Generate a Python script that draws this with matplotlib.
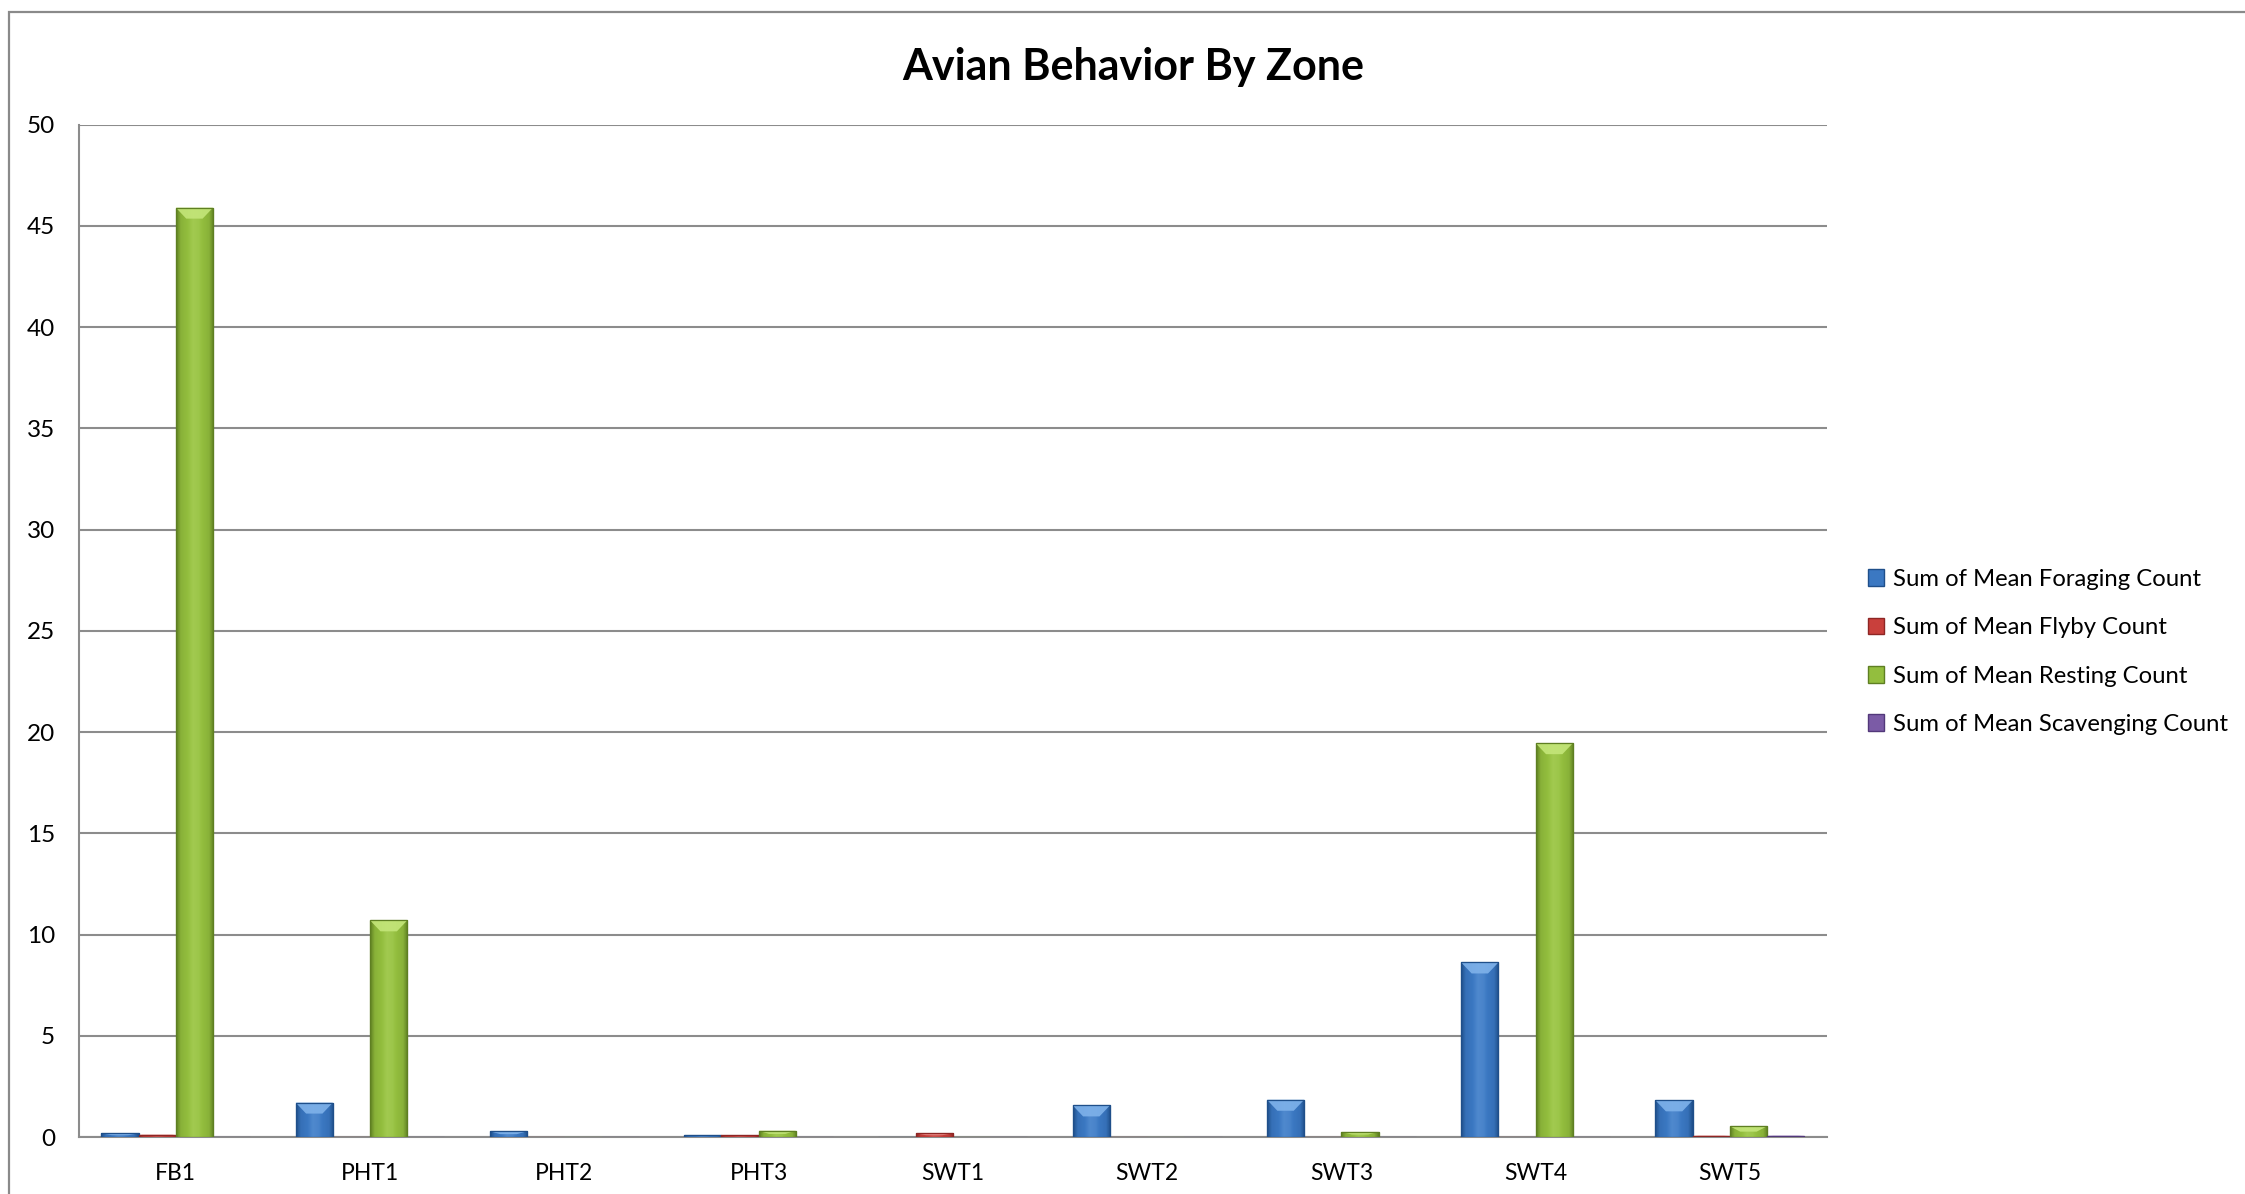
import matplotlib
matplotlib.use("Agg")
import matplotlib.pyplot as plt
import numpy as np
from matplotlib.patches import Patch, Polygon, Rectangle
from matplotlib.colors import to_rgb

plt.rcParams['font.family'] = ['Lato', 'DejaVu Sans']

zones = ["FB1", "PHT1", "PHT2", "PHT3", "SWT1", "SWT2", "SWT3", "SWT4", "SWT5"]
series_names = ["Sum of Mean Foraging Count", "Sum of Mean Flyby Count",
                "Sum of Mean Resting Count", "Sum of Mean Scavenging Count"]
foraging = [0.18, 1.70, 0.28, 0.10, 0.0, 1.56, 1.84, 8.62, 1.81]
flyby = [0.12, 0.0, 0.0, 0.10, 0.18, 0.0, 0.0, 0.0, 0.07]
resting = [45.9, 10.7, 0.0, 0.31, 0.0, 0.0, 0.25, 19.45, 0.53]
scavenging = [0.0, 0.0, 0.0, 0.0, 0.0, 0.0, 0.0, 0.0, 0.07]
yticks = [0, 5, 10, 15, 20, 25, 30, 35, 40, 45, 50]

colors = ["#3B78C2", "#C9403C", "#93BE3E", "#7B5BA6"]
dark = ["#1F4F8A", "#8E2624", "#5E7F22", "#52387A"]
light = ["#7FB2EA", "#E88A86", "#C4E67A", "#AE94D2"]

W, H = 2245, 1194
fig = plt.figure(figsize=(W / 100, H / 100), dpi=100)
ax = fig.add_axes([78.7 / W, 1 - 1137 / H, (1827 - 78.7) / W, (1137 - 124.6) / H])

# outer chart border
fig.patches.append(Rectangle((9 / W, -0.1), 1.2, 1 - 12 / H + 0.1, transform=fig.transFigure,
                             fill=False, edgecolor="#8a8a8a", lw=1.6, zorder=0))

data = [foraging, flyby, resting, scavenging]
x = np.arange(len(zones))
bw = 0.1915
offsets = (np.arange(4) - 1.5) * bw

ax.set_xlim(-0.5, len(zones) - 0.5)
ax.set_ylim(0, 50)

px_per_unit = (1137 - 124.6) / 50.0

for si, vals in enumerate(data):
    bars = ax.bar(x + offsets[si], vals, width=bw, color=colors[si],
                  edgecolor=dark[si], linewidth=0.8, zorder=3)
    c0 = np.array(to_rgb(dark[si]))
    c1 = np.array(to_rgb(colors[si]))
    c2 = np.array(to_rgb(light[si]))
    t = np.linspace(0, 1, 64)
    prof = np.interp(t, [0, 0.12, 0.45, 0.6, 0.88, 1], [0, 0.8, 1.15, 1.1, 0.8, 0])
    grad = np.zeros((1, 64, 3))
    for i, p in enumerate(prof):
        if p <= 1:
            grad[0, i] = c0 + (c1 - c0) * p
        else:
            grad[0, i] = c1 + (c2 - c1) * (p - 1) * 2
    grad = np.clip(grad, 0, 1)
    for patch in bars.patches:
        bx, by = patch.get_x(), patch.get_y()
        w, h = patch.get_width(), patch.get_height()
        if h <= 0:
            continue
        im = ax.imshow(grad, extent=(bx, bx + w, by, by + h), aspect='auto',
                       zorder=3.1, interpolation='bilinear')
        im.set_clip_path(patch)
        bh = min(11 / px_per_unit, h * 0.5)
        bev = Polygon([(bx, by + h), (bx + w, by + h), (bx + w * 0.72, by + h - bh),
                       (bx + w * 0.28, by + h - bh)], closed=True,
                      facecolor=light[si], edgecolor='none', alpha=0.9, zorder=3.2)
        ax.add_patch(bev)
        ax.add_patch(Rectangle((bx, by), w, h, fill=False, edgecolor=dark[si],
                               lw=0.9, zorder=3.3))

ax.set_yticks(yticks)
ax.set_xticks(x)
ax.set_xticklabels(zones)
ax.yaxis.grid(True, color="#8c8c8c", linewidth=1.5, zorder=0)
ax.set_axisbelow(True)
for s in ["top", "right"]:
    ax.spines[s].set_visible(False)
for s in ["left", "bottom"]:
    ax.spines[s].set_color("#8c8c8c")
    ax.spines[s].set_linewidth(1.5)
ax.tick_params(axis='both', length=0, colors="#000000")
ax.tick_params(axis='y', pad=17, labelsize=17.5)
ax.tick_params(axis='x', pad=19, labelsize=16.5)

fig.text(0.505, 1 - 67 / H, "Avian Behavior By Zone", ha='center', va='center',
         fontsize=31, fontweight='bold')

handles = [Patch(facecolor=colors[i], edgecolor=dark[i], label=series_names[i]) for i in range(4)]
fig.legend(handles=handles, loc='center left', bbox_to_anchor=(1858 / W, 1 - 652 / H),
           frameon=False, fontsize=17.2, handlelength=0.7, handleheight=0.7,
           handletextpad=0.35, labelspacing=1.14, borderaxespad=0)

fig.savefig("out.png", dpi=100)
